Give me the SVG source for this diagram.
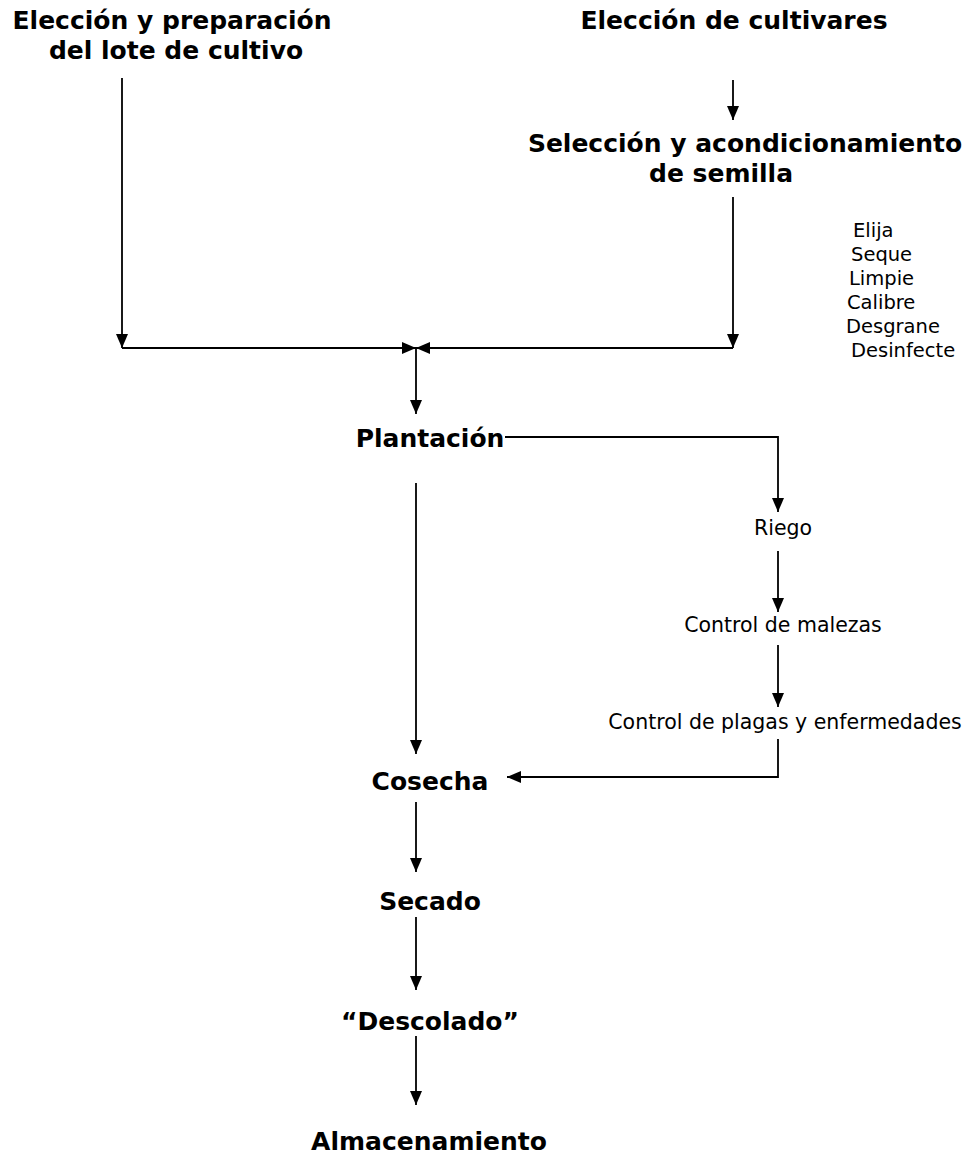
<svg xmlns="http://www.w3.org/2000/svg" width="971" height="1163" viewBox="0 0 971 1163">
<defs>
<marker id="ah" viewBox="0 0 14 12" refX="14" refY="6" markerWidth="14" markerHeight="12" markerUnits="userSpaceOnUse" orient="auto">
<path d="M0,0 L14,6 L0,12 Z" fill="#000"/>
</marker>
</defs>
<style>
text{fill:#000}
.b{font-family:"DejaVu Sans",Verdana,sans-serif;font-weight:bold;font-size:25px;text-anchor:middle}
.r{font-family:"DejaVu Sans",Verdana,sans-serif;font-size:20.5px;text-anchor:middle}
.l{font-family:"DejaVu Sans",Verdana,sans-serif;font-size:19.5px}
.c line,.c path{stroke:#000;stroke-width:1.8;fill:none}
.a{marker-end:url(#ah)}
</style>
<rect width="971" height="1163" fill="#fff"/>
<g id="n-lote"><text class="b" x="172" y="29">Elección y preparación</text><text class="b" x="176" y="59">del lote de cultivo</text></g>
<g id="n-cultivares"><text class="b" x="734" y="29">Elección de cultivares</text></g>
<g id="n-semilla"><text class="b" x="745" y="152">Selección y acondicionamiento</text><text class="b" x="721" y="182">de semilla</text></g>
<g id="n-lista">
<text class="l" x="853" y="237">Elija</text>
<text class="l" x="851" y="261">Seque</text>
<text class="l" x="849" y="285">Limpie</text>
<text class="l" x="847" y="309">Calibre</text>
<text class="l" x="846" y="333">Desgrane</text>
<text class="l" x="851" y="357">Desinfecte</text>
</g>
<g id="n-plantacion"><text class="b" x="430" y="447">Plantación</text></g>
<g id="n-riego"><text class="r" x="783" y="535">Riego</text></g>
<g id="n-malezas"><text class="r" x="783" y="632">Control de malezas</text></g>
<g id="n-plagas"><text class="r" x="785" y="729">Control de plagas y enfermedades</text></g>
<g id="n-cosecha"><text class="b" x="430" y="790">Cosecha</text></g>
<g id="n-secado"><text class="b" x="430" y="910">Secado</text></g>
<g id="n-descolado"><text class="b" x="430" y="1030">“Descolado”</text></g>
<g id="n-almacenamiento"><text class="b" x="429" y="1150">Almacenamiento</text></g>
<g id="connectors" class="c">
<line class="a" x1="122" y1="78" x2="122" y2="348"/>
<line class="a" x1="733" y1="80" x2="733" y2="120"/>
<line class="a" x1="733" y1="197" x2="733" y2="348"/>
<line class="a" x1="122" y1="348" x2="416" y2="348"/>
<line class="a" x1="733" y1="348" x2="416" y2="348"/>
<line class="a" x1="416" y1="348" x2="416" y2="414"/>
<path class="a" d="M505,437 H778 V512"/>
<line class="a" x1="778" y1="551" x2="778" y2="612"/>
<line class="a" x1="778" y1="645" x2="778" y2="707"/>
<path class="a" d="M778,739 V777 H507"/>
<line class="a" x1="416" y1="483" x2="416" y2="754"/>
<line class="a" x1="416" y1="802" x2="416" y2="872"/>
<line class="a" x1="416" y1="917" x2="416" y2="990"/>
<line class="a" x1="416" y1="1036" x2="416" y2="1105"/>
</g>
</svg>
